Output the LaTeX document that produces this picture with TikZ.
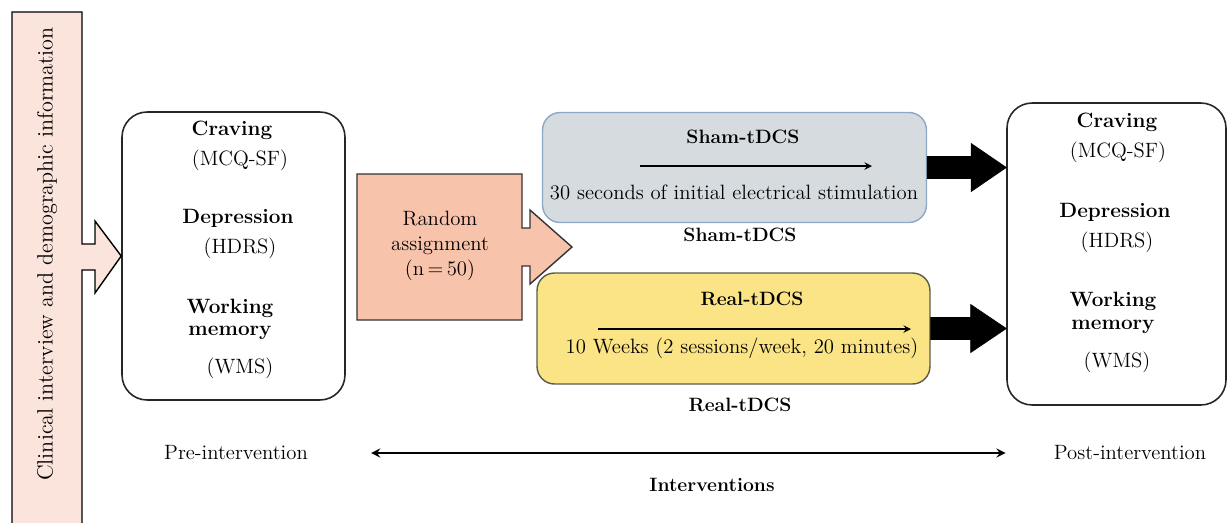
\documentclass[tikz,border=0pt]{standalone}
\usepackage{amsmath}
\usepackage{tikz}
\usetikzlibrary{arrows,positioning,calc}

\definecolor{infopink}{HTML}{FBE4DC}
\definecolor{randpink}{HTML}{F8C3AB}
\definecolor{shamfill}{HTML}{D5DBDF}
\definecolor{shamedge}{HTML}{8DA8C6}
\definecolor{realfill}{HTML}{FBE485}
\definecolor{realedge}{HTML}{5C5A48}

\begin{document}
\begin{tikzpicture}[x=0.02cm,y=-0.02cm,>=stealth,
	every node/.style={font=\fontsize{11.8}{14.2}\selectfont, inner sep=0pt},
	outbox/.style={draw=black!85, line width=0.9pt, rounded corners=0.5cm, minimum width=4.46cm, minimum height=5.76cm},
	armbox/.style={line width=0.8pt, rounded corners=0.35cm, minimum height=2.2cm},
	armtitle/.style={font=\fontsize{11}{13}\selectfont\bfseries},
	blk/.style={draw=black, fill=black},
	thinarr/.style={->, line width=0.9pt}]
		\clip (0,0) rectangle (1228,522);

		% outcome boxes
		\node (pre) at (233.5,256) [outbox] {};
		\node (post) at (1116.5,254) [outbox, minimum width=4.38cm, minimum height=6.04cm] {};

		% left bar with arrow into pre box
		\draw [fill=infopink, line width=0.8pt] (12,12) -- (82,12) -- (82,244) -- (95,244) -- (95,221)
			-- (pre.west) -- (95,293) -- (95,270) -- (82,270) -- (82,535) -- (12,535) -- cycle;
		\node (info) at (47,254) [rotate=90, font=\fontsize{12.6}{15}\selectfont] {Clinical interview and demographic information};

		\node (preC) at (232,130) {\textbf{Craving}};
		\node (preCs) at (240,160) {(MCQ-SF)};
		\node (preD) at (238,218) {\textbf{Depression}};
		\node (preDs) at (240,248) {(HDRS)};
		\node (preW) at (230,308) {\textbf{Working}};
		\node (preM) at (230,333) {\textbf{memory}};
		\node (preWs) at (240,368) {(WMS)};

		\node (postC) at (1117,122) {\textbf{Craving}};
		\node (postCs) at (1118,152) {(MCQ-SF)};
		\node (postD) at (1115,212) {\textbf{Depression}};
		\node (postDs) at (1117,242) {(HDRS)};
		\node (postW) at (1113,301) {\textbf{Working}};
		\node (postM) at (1113,327) {\textbf{memory}};
		\node (postWs) at (1117,362) {(WMS)};

		% random assignment
		\draw [fill=randpink, draw=black!80, line width=0.8pt] (357,174) -- (522,174) -- (522,228) -- (530,228) -- (530,210)
			-- (572,247) -- (530,284) -- (530,266) -- (522,266) -- (522,320) -- (357,320) -- cycle;
		\node (rand) at (440,246) [align=center] {Random\\assignment\\(n\,=\,50)};

		% the two arms
		\node (sham) at (734.5,167.5) [armbox, draw=shamedge, fill=shamfill, minimum width=7.68cm] {};
		\node (shamT) at (743,137) [armtitle] {Sham-tDCS};
		\draw [thinarr] (640,166) -- (872,166);
		\node (shamX) at (734,192) {30 seconds of initial electrical stimulation};
		\node (shamL) at (740,235) [armtitle] {Sham-tDCS};

		\node (real) at (733.5,328.5) [armbox, draw=realedge, fill=realfill, minimum width=7.86cm, minimum height=2.22cm] {};
		\node (realT) at (752,299) [armtitle] {Real-tDCS};
		\draw [thinarr] (598,329) -- (911,329);
		\node (realX) at (742,348) {10 Weeks (2 sessions/week, 20 minutes)};
		\node (realL) at (740,405) [armtitle] {Real-tDCS};

		% block arrows to post box
		\draw [blk] ($(sham.east)+(0,-11)$) -- ++(44,0) -- ++(0,-13) -- (sham.east -| post.west)
			-- ($(sham.east)+(44,24)$) -- ++(0,-13) -- ($(sham.east)+(0,11)$) -- cycle;
		\draw [blk] ($(real.east)+(0,-11)$) -- ++(40,0) -- ++(0,-13) -- (real.east -| post.west)
			-- ($(real.east)+(40,24)$) -- ++(0,-13) -- ($(real.east)+(0,11)$) -- cycle;

		% time line
		\node (prelab) at (236,453) {Pre-intervention};
		\node (postlab) at (1130,453) {Post-intervention};
		\draw [<->, line width=1.3pt] ($(prelab.east)+(63,0)$) -- ($(postlab.west)+(-48,0)$);
		\node (interv) at (712,485) [armtitle] {Interventions};
\end{tikzpicture}
\end{document}
